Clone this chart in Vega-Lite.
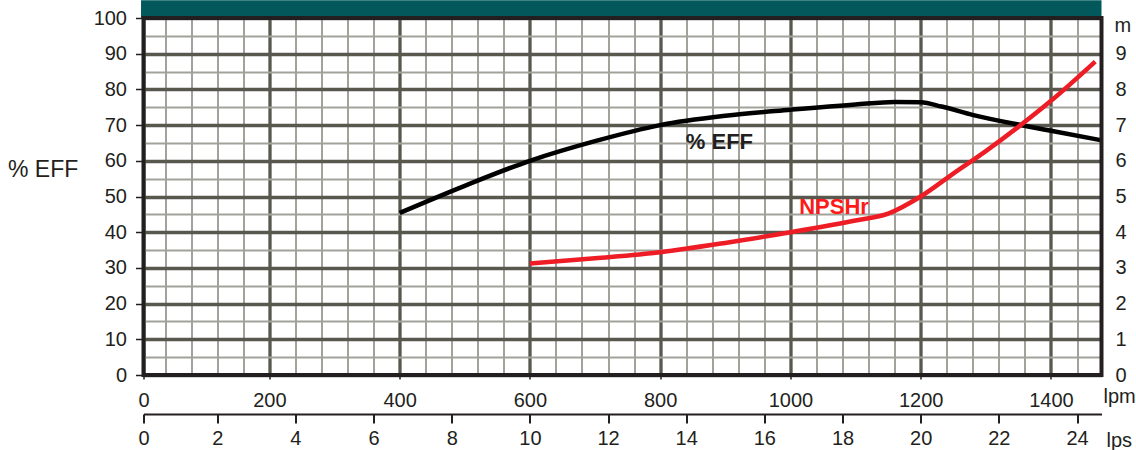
{
  "$schema": "https://vega.github.io/schema/vega-lite/v6.json",
  "width": 958,
  "height": 357,
  "autosize": {"type": "none"},
  "padding": {"left": 143.5, "top": 18, "right": 34.5, "bottom": 75},
  "background": "white",
  "config": {
    "view": {"stroke": null},
    "axis": {
      "labelFont": "Liberation Sans",
      "titleFont": "Liberation Sans",
      "labelColor": "#231f20",
      "titleColor": "#231f20",
      "labelFontSize": 20,
      "titleFontSize": 20,
      "titleFontWeight": "normal",
      "labelFlush": false,
      "labelOverlap": false
    }
  },
  "datasets": {
    "eff": [
      {"lpm": 400, "pct": 45.4},
      {"lpm": 500, "pct": 53.0},
      {"lpm": 600, "pct": 60.0},
      {"lpm": 700, "pct": 65.5},
      {"lpm": 800, "pct": 70.0},
      {"lpm": 900, "pct": 72.6},
      {"lpm": 1000, "pct": 74.3},
      {"lpm": 1100, "pct": 75.8},
      {"lpm": 1160, "pct": 76.5},
      {"lpm": 1200, "pct": 76.4},
      {"lpm": 1232, "pct": 75.2},
      {"lpm": 1281, "pct": 72.8},
      {"lpm": 1357, "pct": 69.9},
      {"lpm": 1400, "pct": 68.4},
      {"lpm": 1476, "pct": 65.8}
    ],
    "npsh": [
      {"lpm": 600, "m": 3.12},
      {"lpm": 700, "m": 3.27},
      {"lpm": 800, "m": 3.44},
      {"lpm": 900, "m": 3.7},
      {"lpm": 1000, "m": 4.0},
      {"lpm": 1100, "m": 4.33},
      {"lpm": 1150, "m": 4.52},
      {"lpm": 1200, "m": 5.0},
      {"lpm": 1250, "m": 5.64},
      {"lpm": 1300, "m": 6.27},
      {"lpm": 1350, "m": 6.95},
      {"lpm": 1400, "m": 7.68},
      {"lpm": 1468, "m": 8.78}
    ]
  },
  "layer": [
    {
      "data": {"values": [{}]},
      "mark": {"type": "rect", "color": "#02585b"},
      "encoding": {
        "x": {
          "datum": 3, "type": "quantitative",
          "scale": {"domain": [6.8, 1477.6], "nice": false, "zero": false},
          "axis": {
            "orient": "bottom",
            "values": [40,80,120,160,200,240,280,320,360,400,440,480,520,560,600,640,680,720,760,800,840,880,920,960,1000,1040,1080,1120,1160,1200,1240,1280,1320,1360,1400,1440],
            "grid": true, "gridColor": "#a2a29b", "gridWidth": 2,
            "labels": false, "ticks": false, "domain": false, "title": null
          }
        },
        "x2": {"datum": 1477.6},
        "y": {
          "datum": 100, "type": "quantitative",
          "scale": {"domain": [0, 100], "nice": false},
          "axis": {
            "orient": "left",
            "values": [5,15,25,35,45,55,65,75,85,95],
            "grid": true, "gridColor": "#a2a29b", "gridWidth": 2,
            "labels": false, "ticks": false, "domain": false, "title": null
          }
        },
        "y2": {"datum": 105}
      }
    },
    {
      "data": {"name": "eff"},
      "mark": {"type": "line", "color": "#000000", "strokeWidth": 4.5, "interpolate": "monotone"},
      "encoding": {
        "x": {
          "field": "lpm", "type": "quantitative",
          "scale": {"domain": [6.8, 1477.6], "nice": false, "zero": false},
          "axis": {
            "orient": "bottom",
            "values": [6.8,200,400,600,800,1000,1200,1400],
            "labelExpr": "datum.value < 100 ? '0' : format(datum.value, 'd')",
            "grid": true, "gridColor": "#58584f", "gridWidth": 3.3,
            "domain": false, "tickSize": 4, "tickColor": "#231f20", "tickWidth": 1.5,
            "labelPadding": 11.5,
            "title": "lpm", "titleX": 959.5, "titleY": 27,
            "titleAlign": "left", "titleBaseline": "alphabetic"
          }
        },
        "y": {
          "field": "pct", "type": "quantitative",
          "scale": {"domain": [0, 100], "nice": false},
          "axis": {
            "orient": "left",
            "values": [0,10,20,30,40,50,60,70,80,90,100],
            "grid": true, "gridColor": "#58584f", "gridWidth": 3.3,
            "domain": false, "tickSize": 8, "tickColor": "#231f20", "tickWidth": 1.5,
            "labelPadding": 9,
            "title": "% EFF", "titleAngle": 0, "titleX": -136, "titleY": 158,
            "titleAlign": "left", "titleBaseline": "alphabetic", "titleFontSize": 23
          }
        }
      }
    },
    {
      "data": {"name": "npsh"},
      "mark": {"type": "line", "color": "#ee1d25", "strokeWidth": 4.5, "interpolate": "monotone"},
      "encoding": {
        "x": {
          "field": "lpm", "type": "quantitative",
          "scale": {"domain": [6.8, 1477.6], "nice": false, "zero": false},
          "axis": {
            "orient": "bottom", "offset": 39,
            "values": [6.8,120,240,360,480,600,720,840,960,1080,1200,1320,1440],
            "labelExpr": "datum.value < 100 ? '0' : format(datum.value / 60, 'd')",
            "grid": false, "domainColor": "#231f20", "domainWidth": 2,
            "tickColor": "#231f20", "tickWidth": 2, "tickSize": 9,
            "labelPadding": 5.5,
            "title": "lps", "titleX": 962.5, "titleY": 32,
            "titleAlign": "left", "titleBaseline": "alphabetic"
          }
        },
        "y": {
          "field": "m", "type": "quantitative",
          "scale": {"domain": [0, 10], "nice": false},
          "axis": {
            "orient": "right",
            "values": [0,1,2,3,4,5,6,7,8,9],
            "grid": false, "domain": false, "ticks": false, "tickSize": 0,
            "labelPadding": 13.5,
            "title": "m", "titleAngle": 0, "titleX": 12.5, "titleY": 13,
            "titleAlign": "left", "titleBaseline": "alphabetic"
          }
        }
      }
    },
    {
      "data": {"values": [
        {"label": "% EFF", "lpm": 891, "pct": 65.2, "series": "EFF"},
        {"label": "NPSHr", "lpm": 1067, "pct": 47, "series": "NPSHr"}
      ]},
      "mark": {"type": "text", "font": "Liberation Sans", "fontWeight": "bold", "fontSize": 22, "baseline": "middle", "align": "center"},
      "encoding": {
        "x": {"field": "lpm", "type": "quantitative", "scale": {"domain": [6.8, 1477.6], "nice": false, "zero": false}, "axis": null},
        "y": {"field": "pct", "type": "quantitative", "scale": {"domain": [0, 100], "nice": false}, "axis": null},
        "text": {"field": "label"},
        "color": {"field": "series", "type": "nominal", "scale": {"domain": ["EFF", "NPSHr"], "range": ["#231f20", "#ff1a1a"]}, "legend": null}
      }
    },
    {
      "data": {"values": [{}]},
      "mark": {"type": "rect", "filled": false, "color": "#231f20", "strokeWidth": 4},
      "encoding": {
        "x": {"datum": 6.8, "type": "quantitative", "scale": {"domain": [6.8, 1477.6], "nice": false, "zero": false}, "axis": null},
        "x2": {"datum": 1477.6},
        "y": {"datum": 0, "type": "quantitative", "scale": {"domain": [0, 100], "nice": false}, "axis": null},
        "y2": {"datum": 100}
      }
    }
  ],
  "resolve": {"scale": {"x": "independent", "y": "independent"}}
}
